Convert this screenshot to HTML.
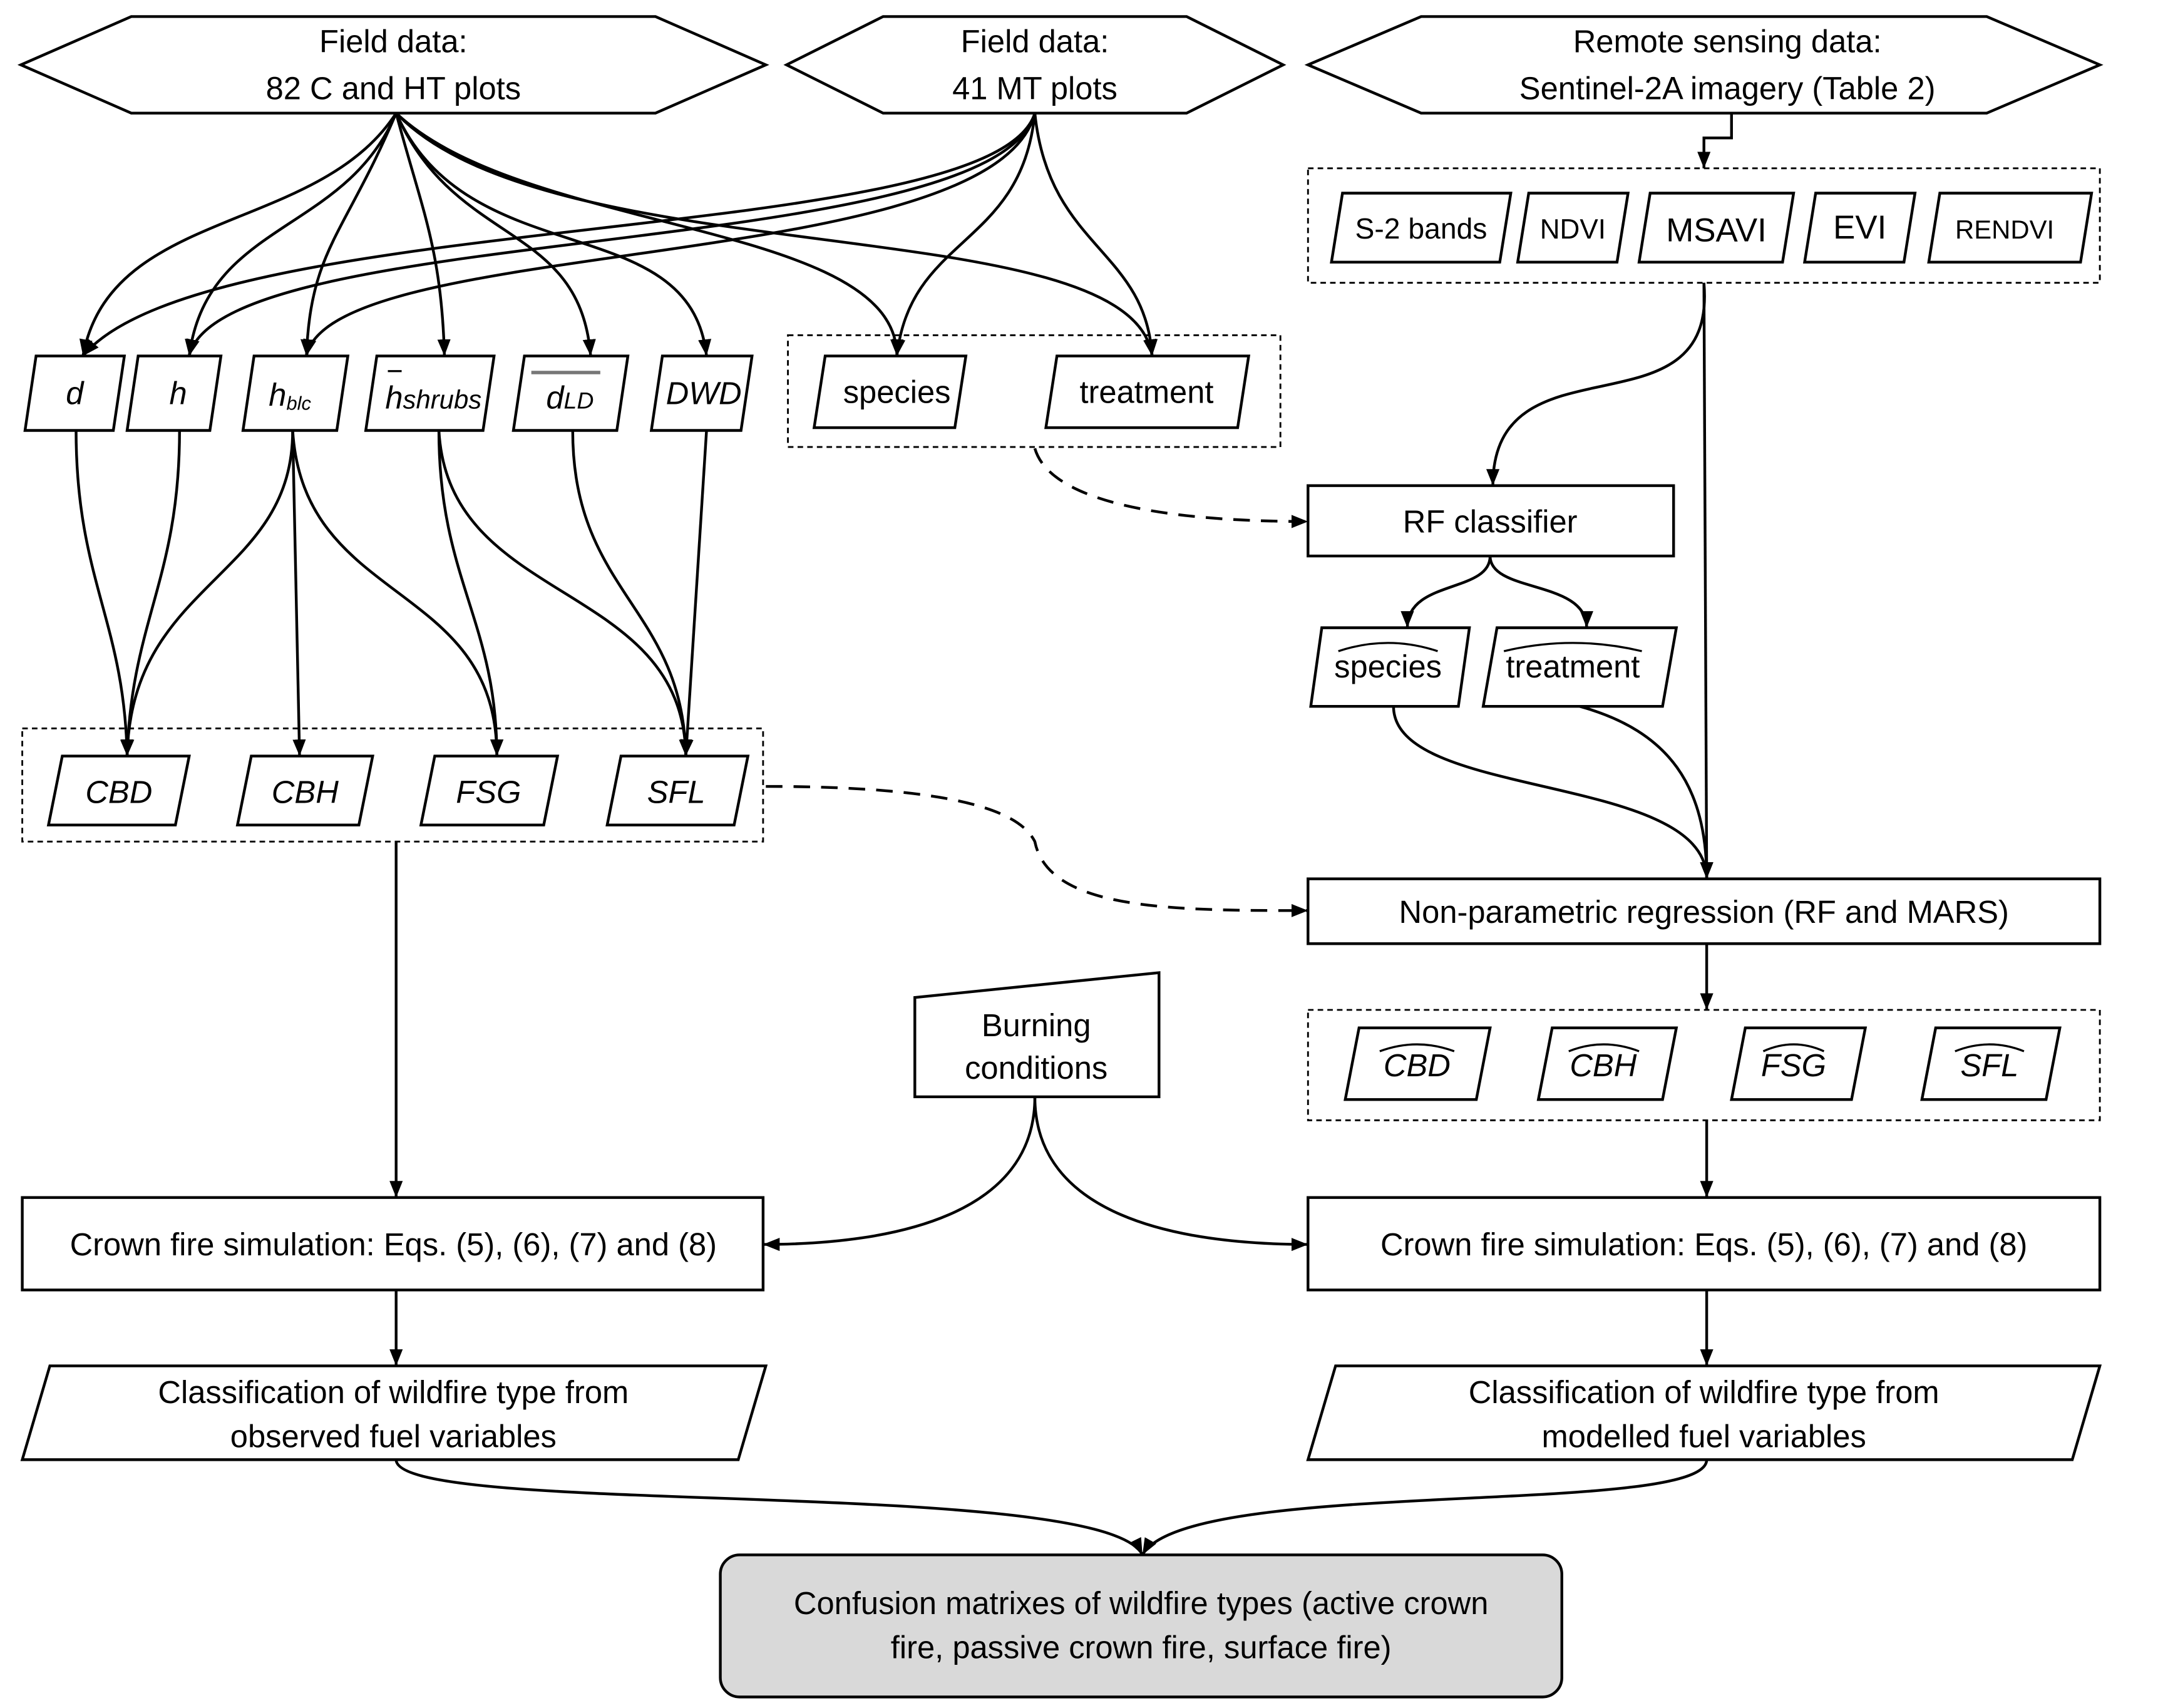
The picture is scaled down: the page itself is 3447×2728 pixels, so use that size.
<!DOCTYPE html>
<html><head><meta charset="utf-8"><style>
html,body{margin:0;padding:0;background:#fff;}
svg{display:block;}
text{font-family:"Liberation Sans",sans-serif;fill:#000;}
.i{font-style:italic;font-family:"Liberation Serif",serif;}
</style></head><body>
<svg width="3447" height="2728" viewBox="0 0 1564 1238" xmlns="http://www.w3.org/2000/svg">
<defs>
<marker id="b" viewBox="0 0 10 10" refX="10" refY="5" markerWidth="12" markerHeight="12" orient="auto" markerUnits="userSpaceOnUse">
<path d="M0,1 L10,5 L0,9 z" fill="#000"/></marker>
</defs>
<g fill="#fff" stroke="#000" stroke-width="2">
<polygon points="15,47 95,12 475,12 555,47 475,82 95,82"/>
<polygon points="570,47 640,12 860,12 930,47 860,82 640,82"/>
<polygon points="948,47 1030,12 1440,12 1522,47 1440,82 1030,82"/>
</g>
<g font-size="23" text-anchor="middle">
<text x="285" y="38">Field data:</text><text x="285" y="72">82 C and HT plots</text>
<text x="750" y="38">Field data:</text><text x="750" y="72">41 MT plots</text>
<text x="1252" y="38">Remote sensing data:</text><text x="1252" y="72">Sentinel-2A imagery (Table 2)</text>
</g>
<g fill="none" stroke="#000" stroke-width="1.3" stroke-dasharray="4,3">
<rect x="948" y="122" width="574" height="83"/>
<rect x="571" y="243" width="357" height="81"/>
<rect x="16" y="528" width="537" height="82"/>
<rect x="948" y="732" width="574" height="80"/>
</g>
<g fill="#fff" stroke="#000" stroke-width="2">
<polygon points="973,140 1095,140 1087,190 965,190"/>
<polygon points="1108,140 1180,140 1172,190 1100,190"/>
<polygon points="1196,140 1300,140 1292,190 1188,190"/>
<polygon points="1316,140 1388,140 1380,190 1308,190"/>
<polygon points="1406,140 1516,140 1508,190 1398,190"/>
<polygon points="26,258 90,258 82,312 18,312"/>
<polygon points="100,258 160,258 152,312 92,312"/>
<polygon points="184,258 252,258 244,312 176,312"/>
<polygon points="273,258 358,258 350,312 265,312"/>
<polygon points="380,258 455,258 447,312 372,312"/>
<polygon points="480,258 545,258 537,312 472,312"/>
<polygon points="598,258 700,258 692,310 590,310"/>
<polygon points="766,258 905,258 897,310 758,310"/>
<polygon points="45,548 137,548 127,598 35,598"/>
<polygon points="182,548 270,548 260,598 172,598"/>
<polygon points="315,548 404,548 394,598 305,598"/>
<polygon points="450,548 542,548 532,598 440,598"/>
<rect x="948" y="352" width="265" height="51"/>
<polygon points="958,455 1065,455 1057,512 950,512"/>
<polygon points="1085,455 1215,455 1205,512 1075,512"/>
<rect x="948" y="637" width="574" height="47"/>
<polygon points="985,745 1080,745 1070,797 975,797"/>
<polygon points="1125,745 1215,745 1205,797 1115,797"/>
<polygon points="1265,745 1352,745 1342,797 1255,797"/>
<polygon points="1403,745 1493,745 1483,797 1393,797"/>
<polygon points="663,723 840,705 840,795 663,795"/>
<rect x="16" y="868" width="537" height="67"/>
<rect x="948" y="868" width="574" height="67"/>
<polygon points="36,990 555,990 535,1058 16,1058"/>
<polygon points="968,990 1522,990 1502,1058 948,1058"/>
<rect x="522" y="1127" width="610" height="103" rx="14" fill="#d9d9d9"/>
</g>
<g font-size="23" text-anchor="middle">
<text x="1030" y="173" font-size="21">S-2 bands</text>
<text x="1140" y="173" font-size="20">NDVI</text>
<text x="1244" y="175" font-size="24">MSAVI</text>
<text x="1348" y="173" font-size="24">EVI</text>
<text x="1453" y="173" font-size="19">RENDVI</text>
<text x="650" y="292">species</text>
<text x="831" y="292">treatment</text>
<text x="1080" y="386">RF classifier</text>
<text x="1006" y="491" font-family="Liberation Serif">species</text>
<text x="1140" y="491" font-family="Liberation Serif">treatment</text>
<text x="1235" y="669">Non-parametric regression (RF and MARS)</text>
<text x="751" y="751">Burning</text><text x="751" y="782">conditions</text>
<text x="285" y="910">Crown fire simulation: Eqs. (5), (6), (7) and (8)</text>
<text x="1235" y="910">Crown fire simulation: Eqs. (5), (6), (7) and (8)</text>
<text x="285" y="1017">Classification of wildfire type from</text>
<text x="285" y="1049">observed fuel variables</text>
<text x="1235" y="1017">Classification of wildfire type from</text>
<text x="1235" y="1049">modelled fuel variables</text>
<text x="827" y="1170">Confusion matrixes of wildfire types (active crown</text>
<text x="827" y="1202">fire, passive crown fire, surface fire)</text>
</g>
<g font-size="23" text-anchor="middle" class="i">
<text x="54" y="293">d</text>
<text x="129" y="293">h</text>
<text x="210" y="294">h<tspan font-size="14" dy="3">blc</tspan></text>
<text x="314" y="296">h<tspan font-size="19">shrubs</tspan></text>
<text x="413" y="296">d<tspan font-size="17">LD</tspan></text>
<text x="510" y="293">DWD</text>
<text x="86" y="582">CBD</text>
<text x="221" y="582">CBH</text>
<text x="354" y="582">FSG</text>
<text x="490" y="582">SFL</text>
<text x="1027" y="780">CBD</text>
<text x="1162" y="780">CBH</text>
<text x="1300" y="780">FSG</text>
<text x="1442" y="780">SFL</text>
</g>
<g fill="none" stroke="#000" stroke-width="1.5">
<line x1="281" y1="269" x2="291" y2="269"/>
<line x1="385" y1="270" x2="435" y2="270" stroke="#777" stroke-width="2.5"/>
<path d="M970,472 Q1006,460 1042,472"/><path d="M1090,472 Q1140,460 1190,472"/>
<path d="M1000,762 Q1027,752 1054,762"/><path d="M1137,762 Q1162,752 1188,762"/>
<path d="M1278,762 Q1300,752 1322,762"/><path d="M1417,762 Q1442,752 1467,762"/>
</g>
<g fill="none" stroke="#000" stroke-width="2" marker-end="url(#b)">
<path d="M287,82 C230,170 80,150 60,258"/>
<path d="M287,82 C250,170 150,160 137,258"/>
<path d="M287,82 C250,170 225,180 222,258"/>
<path d="M287,82 C305,150 320,180 322,258"/>
<path d="M287,82 C330,180 420,160 428,258"/>
<path d="M287,82 C340,200 500,150 512,258"/>
<path d="M287,82 C380,170 650,160 650,258"/>
<path d="M287,82 C400,200 820,150 835,258"/>
<path d="M750,82 C720,180 150,150 60,258"/>
<path d="M750,82 C720,190 160,160 137,258"/>
<path d="M750,82 C720,200 240,170 222,258"/>
<path d="M750,82 C740,180 660,170 650,258"/>
<path d="M750,82 C760,180 830,180 835,258"/>
<path d="M55,312 C55,420 90,450 92,548"/>
<path d="M130,312 C130,420 95,450 92,548"/>
<path d="M212,312 C212,420 95,420 92,548"/>
<path d="M212,312 L217,548"/>
<path d="M212,312 C220,440 360,420 360,548"/>
<path d="M318,312 C318,420 360,450 360,548"/>
<path d="M318,312 C325,440 495,420 497,548"/>
<path d="M415,312 C415,430 495,440 497,548"/>
<path d="M512,312 L497,548"/>
<path d="M1255,82 L1255,100 L1235,100 L1235,122"/>
<path d="M1235,205 C1245,320 1082,240 1082,352"/>
<path d="M1235,205 L1237,637"/>
<path d="M1080,403 C1080,430 1020,420 1020,455"/>
<path d="M1080,403 C1080,430 1150,420 1150,455"/>
<path d="M1010,512 C1010,580 1237,560 1237,637"/>
<path d="M1145,512 C1210,530 1237,570 1237,637"/>
<path d="M1237,684 L1237,732"/>
<path d="M1237,812 L1237,868"/>
<path d="M287,610 L287,868"/>
<path d="M750,795 C750,880 650,902 553,902"/>
<path d="M750,795 C750,880 850,902 948,902"/>
<path d="M287,935 L287,990"/>
<path d="M1237,935 L1237,990"/>
<path d="M287,1058 C287,1100 800,1070 828,1127"/>
<path d="M1237,1058 C1237,1100 860,1070 828,1127"/>
<path d="M750,325 C760,360 830,378 948,378" stroke-dasharray="12,8"/>
<path d="M555,570 C700,570 740,590 750,610 C760,660 850,660 948,660" stroke-dasharray="12,8"/>
</g>
</svg>
</body></html>
